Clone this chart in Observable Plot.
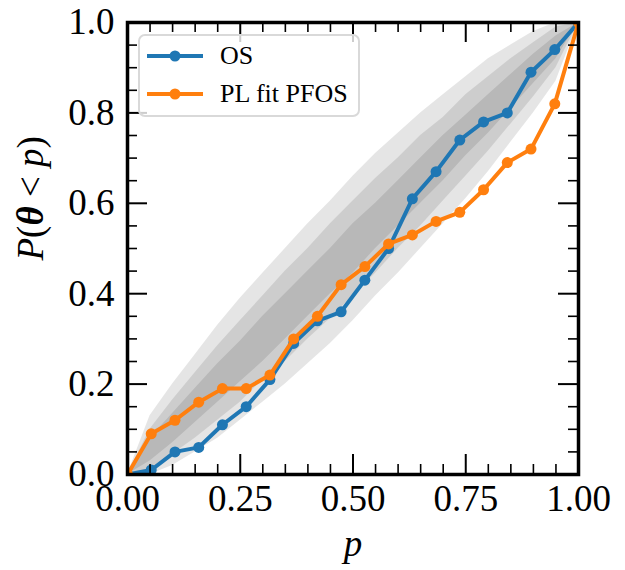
<!DOCTYPE html>
<html><head><meta charset="utf-8">
<script src="https://cdn.jsdelivr.net/npm/d3@7"></script>
<script src="https://cdn.jsdelivr.net/npm/@observablehq/plot@0.6"></script>
<style>
body{margin:0;background:#fff;}
#wrap{position:relative;width:625px;height:570px;font-family:"Liberation Serif","DejaVu Serif",serif;}
#legend{position:absolute;left:138px;top:34px;width:222px;height:83px;border:2px solid #d9d9d9;border-radius:7px;background:rgba(255,255,255,0.8);box-sizing:border-box;}
#legend .item{position:absolute;left:0;display:flex;align-items:center;font-size:26px;color:#000;white-space:nowrap;}
#legend svg{display:block;margin-left:7px;margin-right:17px;}
</style></head><body><div id="wrap"></div>
<script>
// Series: P-P values at p grid
const pValues = [0, 0.0526, 0.1053, 0.1579, 0.2105, 0.2632, 0.3158, 0.3684, 0.4211, 0.4737, 0.5263, 0.5789, 0.6316, 0.6842, 0.7368, 0.7895, 0.8421, 0.8947, 0.9474, 1.0];
const osValues = [0, 0.01, 0.05, 0.06, 0.11, 0.15, 0.21, 0.29, 0.34, 0.36, 0.43, 0.50, 0.61, 0.67, 0.74, 0.78, 0.80, 0.89, 0.94, 1.0];
const pfosValues = [0, 0.09, 0.12, 0.16, 0.19, 0.19, 0.22, 0.30, 0.35, 0.42, 0.46, 0.51, 0.53, 0.56, 0.58, 0.63, 0.69, 0.72, 0.82, 1.0];
const seriesNames = ["OS", "PL fit PFOS"];
const seriesColors = ["#1f77b4", "#ff7f0e"];

// Confidence bands (1, 2, 3 sigma)
const bandP = [0, 0.05, 0.1, 0.15, 0.2, 0.25, 0.3, 0.35, 0.4, 0.45, 0.5, 0.55, 0.6, 0.65, 0.7, 0.75, 0.8, 0.85, 0.9, 0.95, 1];
const lo3 = [0, 0, 0.02, 0.05, 0.08, 0.12, 0.16, 0.20, 0.245, 0.29, 0.34, 0.395, 0.445, 0.50, 0.555, 0.61, 0.67, 0.735, 0.80, 0.87, 1];
const lo2 = [0, 0.01, 0.045, 0.08, 0.12, 0.16, 0.21, 0.25, 0.30, 0.345, 0.395, 0.445, 0.50, 0.55, 0.605, 0.66, 0.715, 0.775, 0.835, 0.90, 1];
const lo1 = [0, 0.03, 0.07, 0.115, 0.16, 0.205, 0.25, 0.30, 0.35, 0.40, 0.445, 0.50, 0.55, 0.60, 0.65, 0.705, 0.755, 0.81, 0.865, 0.92, 1];
const hi1 = [0, 0.08, 0.135, 0.19, 0.245, 0.295, 0.35, 0.40, 0.45, 0.50, 0.555, 0.60, 0.65, 0.70, 0.75, 0.795, 0.84, 0.885, 0.93, 0.97, 1];
const hi2 = [0, 0.10, 0.165, 0.225, 0.285, 0.34, 0.395, 0.45, 0.50, 0.555, 0.605, 0.655, 0.70, 0.75, 0.79, 0.84, 0.88, 0.92, 0.955, 0.99, 1];
const hi3 = [0, 0.13, 0.20, 0.265, 0.33, 0.39, 0.445, 0.50, 0.555, 0.605, 0.66, 0.71, 0.755, 0.80, 0.84, 0.88, 0.92, 0.95, 0.98, 1.0, 1];

// Ticks
const xMajor = [0, 0.25, 0.5, 0.75, 1.0];
const xMinor = [0.05, 0.1, 0.15, 0.2, 0.3, 0.35, 0.4, 0.45, 0.55, 0.6, 0.65, 0.7, 0.8, 0.85, 0.9, 0.95];
const yMajor = [0, 0.2, 0.4, 0.6, 0.8, 1.0];
const yMinor = [0.05, 0.1, 0.15, 0.25, 0.3, 0.35, 0.45, 0.5, 0.55, 0.65, 0.7, 0.75, 0.85, 0.9, 0.95];
const xLabel = "p";
const yLabel = "P(θ < p)";

const bands = bandP.map((p, i) => ({p, lo1: lo1[i], lo2: lo2[i], lo3: lo3[i], hi1: hi1[i], hi2: hi2[i], hi3: hi3[i]}));
const os = pValues.map((p, i) => ({p, v: osValues[i]}));
const pfos = pValues.map((p, i) => ({p, v: pfosValues[i]}));

const W = 625, H = 570, mL = 127, mR = 47, mT = 22, mB = 96;
const iw = W - mL - mR, ih = H - mT - mB;
const majLen = 20, minLen = 10;
const font = "Liberation Serif, DejaVu Serif, serif";

const chart = Plot.plot({
  width: W, height: H,
  marginLeft: mL, marginRight: mR, marginTop: mT, marginBottom: mB,
  style: {fontFamily: font, background: "#fff", color: "#000"},
  x: {domain: [0, 1]},
  y: {domain: [0, 1]},
  marks: [
    Plot.areaY(bands, {x: "p", y1: "lo3", y2: "hi3", fill: "#000", fillOpacity: 0.1}),
    Plot.areaY(bands, {x: "p", y1: "lo2", y2: "hi2", fill: "#000", fillOpacity: 0.1}),
    Plot.areaY(bands, {x: "p", y1: "lo1", y2: "hi1", fill: "#000", fillOpacity: 0.1}),
    Plot.line(os, {x: "p", y: "v", stroke: seriesColors[0], strokeWidth: 4, clip: true}),
    Plot.dot(os, {x: "p", y: "v", r: 5.5, fill: seriesColors[0], clip: true}),
    Plot.line(pfos, {x: "p", y: "v", stroke: seriesColors[1], strokeWidth: 4, clip: true}),
    Plot.dot(pfos, {x: "p", y: "v", r: 5.5, fill: seriesColors[1], clip: true}),
    // inward ticks on all four sides
    Plot.ruleX(xMajor, {x: d => d, insetTop: ih - majLen, stroke: "#000", strokeWidth: 2}),
    Plot.ruleX(xMajor, {x: d => d, insetBottom: ih - majLen, stroke: "#000", strokeWidth: 2}),
    Plot.ruleX(xMinor, {x: d => d, insetTop: ih - minLen, stroke: "#000", strokeWidth: 1.6}),
    Plot.ruleX(xMinor, {x: d => d, insetBottom: ih - minLen, stroke: "#000", strokeWidth: 1.6}),
    Plot.ruleY(yMajor, {y: d => d, insetRight: iw - majLen, stroke: "#000", strokeWidth: 2}),
    Plot.ruleY(yMajor, {y: d => d, insetLeft: iw - majLen, stroke: "#000", strokeWidth: 2}),
    Plot.ruleY(yMinor, {y: d => d, insetRight: iw - minLen, stroke: "#000", strokeWidth: 1.6}),
    Plot.ruleY(yMinor, {y: d => d, insetLeft: iw - minLen, stroke: "#000", strokeWidth: 1.6}),
    Plot.frame({stroke: "#000", strokeWidth: 3.5}),
    Plot.axisX(xMajor, {anchor: "bottom", tickSize: 0, tickPadding: 10, tickFormat: d3.format(".2f"), fontSize: 37, label: null}),
    Plot.axisY(yMajor, {anchor: "left", tickSize: 0, tickPadding: 13, tickFormat: d3.format(".1f"), fontSize: 37, label: null}),
    Plot.text([xLabel], {text: d => d, frameAnchor: "bottom", dy: 70, fontSize: 37, fontStyle: "italic", lineAnchor: "middle"}),
    Plot.text([yLabel], {text: d => d, frameAnchor: "left", dx: -96, dy: 12, rotate: -90, fontSize: 37, lineAnchor: "middle"})
  ]
});

const wrap = document.getElementById("wrap");
wrap.appendChild(chart);

// style the y label with math-like italics
d3.select(chart).selectAll("text").each(function() {
  if (this.textContent === yLabel) {
    const t = d3.select(this);
    t.attr("font-weight", "normal").text(null);
    const parts = [["P", "italic", "normal"], ["(", "normal", "normal"], ["θ", "italic", "bold"], [" < ", "normal", "normal"], ["p", "italic", "normal"], [")", "normal", "normal"]];
    for (const [s, st, wt] of parts) t.append("tspan").attr("font-style", st).attr("font-weight", wt).text(s);
  }
});

// legend inside the axes
const legend = document.createElement("div");
legend.id = "legend";
seriesNames.forEach((name, i) => {
  const item = document.createElement("div");
  item.className = "item";
  item.style.top = (i === 0 ? 5 : 43) + "px";
  item.style.height = "30px";
  item.innerHTML = `<svg width="56" height="14"><line x1="0" y1="7" x2="56" y2="7" stroke="${seriesColors[i]}" stroke-width="4"/><circle cx="28" cy="7" r="5.5" fill="${seriesColors[i]}"/></svg><span>${name}</span>`;
  legend.appendChild(item);
});
wrap.appendChild(legend);
</script></body></html>
